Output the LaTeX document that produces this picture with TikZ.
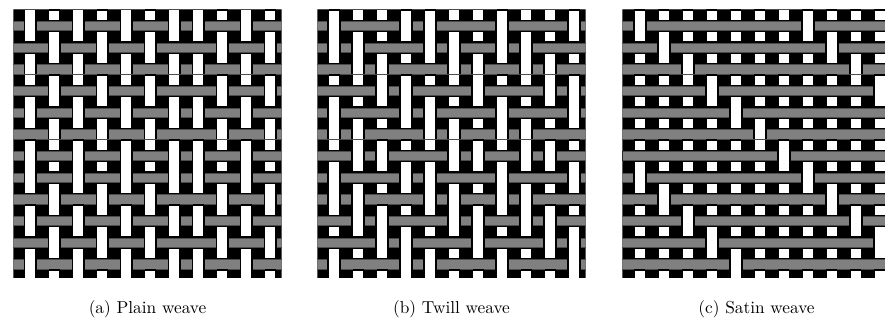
\documentclass[tikz,border=0pt]{standalone}
\begin{document}
\tikzset{
  warp/.style={fill=white},
  weft/.style={fill=gray, draw=black!70, line width=0.5pt},
  cutbox/.style={fill=black},
  caption/.style={anchor=base, inner sep=0pt},
}
\def\px{24.0}
\def\py{21.67}
\def\ww{10}
\def\hh{9.3}
\def\gp{1.7}
\def\oy{16.0}
\def\ptop{10}
\def\pbot{278.3}
% #1 left, #2 right (clip), #3 column offset, #4 pattern test in \wa (column) and \wb (row)
\newcommand\weavepanel[4]{%
  \begin{scope}
    \clip (#1,\ptop) rectangle (#2,\pbot);
    \fill[cutbox] (#1,\ptop) rectangle (#2,\pbot);
    \foreach \i in {0,...,12}{
      \pgfmathsetmacro\xc{#1+#3+\px*(\i-1)}
      \fill[warp] (\xc-\ww/2,\ptop-5) rectangle (\xc+\ww/2,\pbot+5);
    }
    \foreach \j in {0,...,13}{
      \pgfmathsetmacro\yc{\ptop+\oy+\py*(\j-1)}
      \draw[weft] (#1-5,\yc-\hh/2) rectangle (#2+5,\yc+\hh/2);
    }
    \foreach \i in {0,...,12}{
      \foreach \j in {0,...,13}{
        \pgfmathsetmacro\xc{#1+#3+\px*(\i-1)}
        \pgfmathsetmacro\yc{\ptop+\oy+\py*(\j-1)}
        \pgfmathtruncatemacro\wa{mod(\i+6,7)}
        \pgfmathtruncatemacro\wb{mod(\j+6,7)}
        \pgfmathtruncatemacro\ov{ifthenelse(#4,1,0)}
        \ifnum\ov=1
          \fill[cutbox] (\xc-\ww/2-\gp,\yc-\hh/2-0.5) rectangle (\xc+\ww/2+\gp,\yc+\hh/2+0.5);
          \fill[warp] (\xc-\ww/2,\yc-\hh/2-0.5) rectangle (\xc+\ww/2,\yc+\hh/2+0.5);
        \else
          \fill[cutbox] (\xc-\ww/2-0.5,\yc-\hh/2-\gp) rectangle (\xc+\ww/2+0.5,\yc-\hh/2-0.3);
          \fill[cutbox] (\xc-\ww/2-0.5,\yc+\hh/2+0.3) rectangle (\xc+\ww/2+0.5,\yc+\hh/2+\gp);
        \fi
      }
    }
  \end{scope}
}
\begin{tikzpicture}[x=1pt,y=-1pt]
  \useasboundingbox (0,0) rectangle (885,331);
  \weavepanel{13.3}{281.7}{17.0}{mod(\wa+\wb,2)==0}
  \weavepanel{317.3}{585.7}{16.8}{mod(\wa-\wb+9,4)<2}
  \weavepanel{622.3}{885}{17.6}{\wa==\wb}
  \node[caption] (capa) at (147.5,313) {\scalebox{1.73}{(a) Plain weave}};
  \node[caption] (capb) at (451.5,313) {\scalebox{1.73}{(b) Twill weave}};
  \node[caption] (capc) at (756.5,313) {\scalebox{1.73}{(c) Satin weave}};
\end{tikzpicture}
\end{document}
